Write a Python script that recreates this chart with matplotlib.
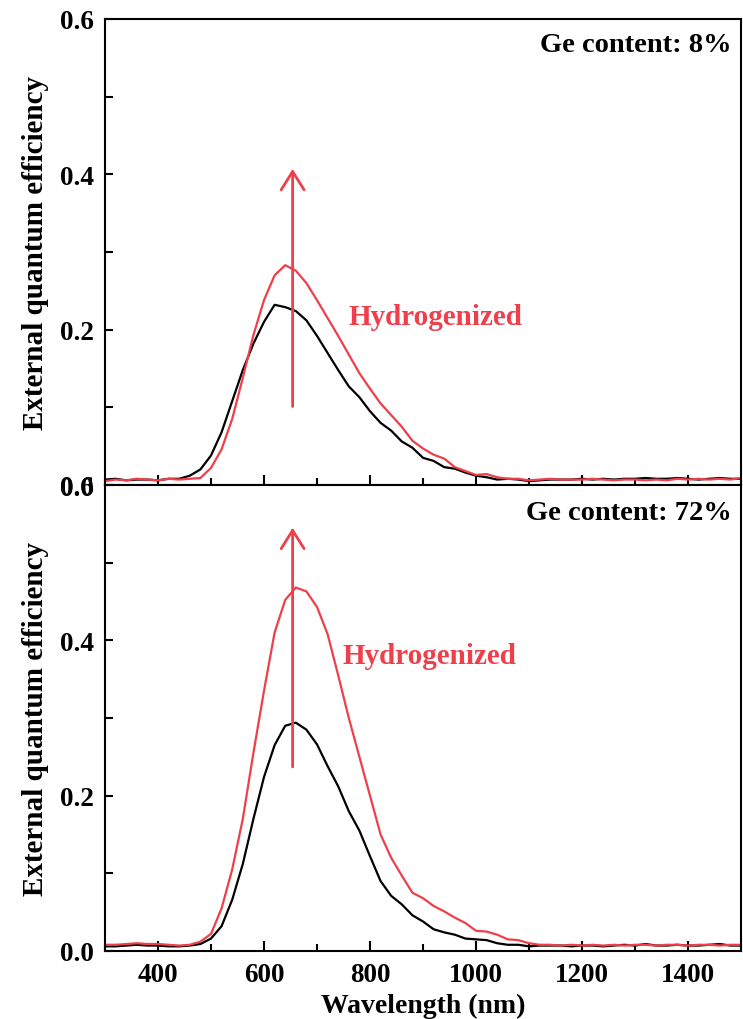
import numpy as np
import matplotlib
matplotlib.use("Agg")
import matplotlib.pyplot as plt
from matplotlib.ticker import MultipleLocator

plt.rcParams['font.family'] = ['Liberation Serif', 'DejaVu Serif']
plt.rcParams['font.weight'] = 'bold'

wavelength = np.arange(300, 1501, 20)

top_black = [0.007, 0.008, 0.006, 0.007, 0.007, 0.006, 0.008, 0.008, 0.012, 0.020,
             0.038, 0.068, 0.108, 0.148, 0.182, 0.210, 0.232, 0.229, 0.224, 0.212,
             0.192, 0.170, 0.148, 0.127, 0.113, 0.095, 0.080, 0.070, 0.056, 0.048,
             0.035, 0.031, 0.023, 0.021, 0.016, 0.012, 0.010, 0.007, 0.008, 0.007,
             0.005, 0.006, 0.007, 0.007, 0.007, 0.008, 0.007, 0.008, 0.007, 0.008,
             0.008, 0.009, 0.008, 0.008, 0.009, 0.008, 0.007, 0.008, 0.009, 0.008,
             0.008]
top_red = [0.005, 0.007, 0.006, 0.008, 0.007, 0.006, 0.008, 0.007, 0.008, 0.009,
           0.022, 0.046, 0.085, 0.138, 0.193, 0.238, 0.270, 0.283, 0.276, 0.260,
           0.238, 0.215, 0.192, 0.168, 0.144, 0.124, 0.105, 0.090, 0.075, 0.057,
           0.047, 0.039, 0.034, 0.023, 0.018, 0.013, 0.014, 0.010, 0.008, 0.008,
           0.006, 0.007, 0.008, 0.007, 0.007, 0.007, 0.008, 0.007, 0.006, 0.007,
           0.007, 0.006, 0.007, 0.006, 0.008, 0.007, 0.008, 0.007, 0.008, 0.007,
           0.009]
bot_black = [0.006, 0.006, 0.007, 0.008, 0.007, 0.007, 0.006, 0.006, 0.007, 0.009,
             0.016, 0.032, 0.066, 0.112, 0.170, 0.224, 0.265, 0.290, 0.294, 0.285,
             0.266, 0.238, 0.212, 0.180, 0.155, 0.122, 0.090, 0.071, 0.060, 0.046,
             0.038, 0.028, 0.024, 0.021, 0.016, 0.015, 0.014, 0.010, 0.008, 0.008,
             0.006, 0.007, 0.007, 0.007, 0.006, 0.007, 0.007, 0.006, 0.007, 0.008,
             0.007, 0.009, 0.007, 0.007, 0.008, 0.007, 0.007, 0.008, 0.009, 0.007,
             0.007]
bot_red = [0.008, 0.008, 0.009, 0.010, 0.009, 0.009, 0.008, 0.007, 0.008, 0.012,
           0.022, 0.055, 0.105, 0.170, 0.255, 0.335, 0.410, 0.452, 0.468, 0.463,
           0.443, 0.408, 0.355, 0.300, 0.250, 0.200, 0.150, 0.120, 0.097, 0.075,
           0.068, 0.058, 0.051, 0.043, 0.036, 0.026, 0.025, 0.021, 0.015, 0.014,
           0.010, 0.008, 0.008, 0.007, 0.008, 0.007, 0.008, 0.007, 0.008, 0.007,
           0.008, 0.008, 0.007, 0.008, 0.008, 0.007, 0.008, 0.008, 0.007, 0.008,
           0.008]

panel_labels = ["Ge content: 8%", "Ge content: 72%"]
annot_text = "Hydrogenized"
arrow_x = [654, 654]
arrow_from = [0.101, 0.237]
arrow_to = [0.407, 0.545]
text_pos = [(760, 0.217), (748, 0.381)]
label_y = [0.946, 0.94]

RED = '#EE3F4A'

fig = plt.figure(figsize=(7.43, 10.2), dpi=100)
gs = fig.add_gridspec(2, 1, left=105/743, right=741/743, top=1-20/1020,
                      bottom=1-952/1020, hspace=0)
axes = [fig.add_subplot(gs[0]), fig.add_subplot(gs[1])]

data = [(top_black, top_red), (bot_black, bot_red)]
for i, ax in enumerate(axes):
    b, r = data[i]
    ax.plot(wavelength, b, color='black', lw=1.6)
    ax.plot(wavelength, r, color=RED, lw=1.6)
    ax.set_xlim(300, 1500)
    ax.set_ylim(0, 0.6)
    ax.xaxis.set_major_locator(MultipleLocator(200))
    ax.xaxis.set_minor_locator(MultipleLocator(100))
    ax.yaxis.set_major_locator(MultipleLocator(0.2))
    ax.yaxis.set_minor_locator(MultipleLocator(0.1))
    ax.tick_params(which='both', direction='in', top=False, right=False,
                   width=1.5, labelsize=19.5, pad=8)
    ax.tick_params(which='major', length=7)
    ax.tick_params(which='minor', length=5)
    ax.tick_params(axis='y', which='both', length=6)
    for s in ax.spines.values():
        s.set_linewidth(1.5)
    ax.yaxis.set_major_formatter(plt.FuncFormatter(lambda v, p: f"{v:.1f}"))
    ax.set_ylabel("External quantum efficiency", fontsize=21, fontweight='bold',
                  labelpad=8)
    ax.text(0.985, label_y[i], panel_labels[i], transform=ax.transAxes,
            ha='right', va='center', fontsize=20.5, fontweight='bold')
    ax.annotate('', xy=(arrow_x[i], arrow_to[i]), xytext=(arrow_x[i], arrow_from[i]),
                arrowprops=dict(arrowstyle='->,head_length=0.4,head_width=0.25',
                                color=RED, lw=2, mutation_scale=33,
                                shrinkA=0, shrinkB=0))
    ax.text(text_pos[i][0], text_pos[i][1], annot_text, color=RED, fontsize=21,
            fontweight='bold', ha='left', va='center')

axes[0].tick_params(labelbottom=False)
axes[1].set_xlabel("Wavelength (nm)", fontsize=20, fontweight='bold', labelpad=4)

fig.savefig("out.png", dpi=100)
